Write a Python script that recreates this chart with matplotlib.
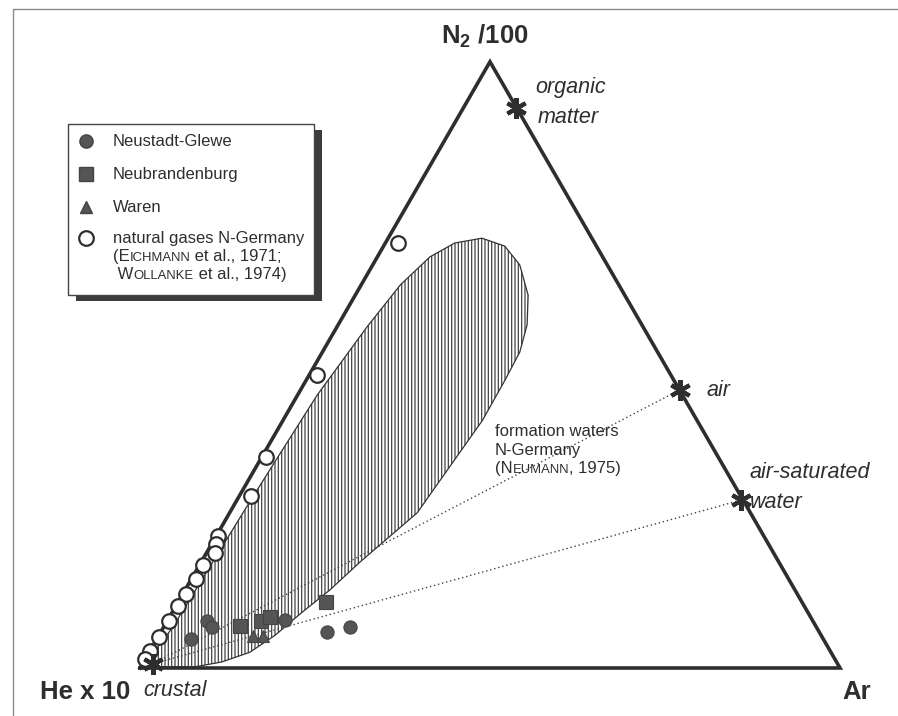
import numpy as np
import matplotlib.pyplot as plt
from matplotlib.patches import Polygon, Rectangle
from matplotlib.offsetbox import TextArea, HPacker, AnnotationBbox

plt.rcParams['font.family'] = ['Liberation Sans', 'DejaVu Sans']
plt.rcParams['mathtext.fontset'] = 'custom'
plt.rcParams['mathtext.rm'] = 'Liberation Sans'
plt.rcParams['mathtext.bf'] = 'Liberation Sans:bold'
plt.rcParams['hatch.linewidth'] = 0.9

# ternary values in percent: N2/100 and Ar (He x 10 is the rest)
gas_n2 = [70.1, 48.3, 34.8, 28.4, 21.8, 20.5, 19.0, 17.0, 14.7, 12.2, 10.2, 7.8, 5.1, 2.8, 1.5]
gas_ar = [1.8, 1.1, 0.6, 1.7, 0.3, 0.6, 1.2, 0.5, 0.7, 0.5, 0.3, 0.2, 0.1, 0.0, 0.0]

glewe_n2 = [4.8, 7.8, 6.8, 7.9, 5.9, 6.8]
glewe_ar = [4.9, 5.7, 6.9, 16.8, 23.7, 26.6]

brand_n2 = [6.9, 7.8, 8.4, 10.9]
brand_ar = [10.8, 13.4, 14.4, 21.1]

waren_n2 = [5.3, 5.3]
waren_ar = [13.5, 14.9]

# end members: organic matter, air, air-saturated water, crustal
end_names = ['organic', 'air', 'asw', 'crustal']
end_n2 = [92.4, 45.9, 27.7, 0.7]
end_ar = [7.5, 54.2, 72.0, 1.5]

# outline of formation waters field (Neumann, 1975)
field_n2 = [0.2, 6.6, 16.2, 28.2, 34.8, 45.0, 56.3, 63.2, 67.8, 70.1, 70.9, 69.6, 66.5,
            61.5, 56.6, 52.1, 47.5, 40.9, 25.6, 17.5, 12.9, 8.9, 5.4, 2.6, 1.0, 0.2]
field_ar = [0.3, 1.3, 1.6, 2.0, 2.3, 2.8, 4.3, 5.6, 7.5, 9.9, 13.4, 17.3, 21.0,
            24.7, 27.0, 28.2, 28.4, 28.5, 26.8, 22.7, 20.7, 18.4, 16.6, 14.4, 11.2, 7.8]

SQ = np.sqrt(3) / 2


def tern(n2, ar):
    b = np.asarray(n2) / 100.0
    c = np.asarray(ar) / 100.0
    return c + b / 2, b * SQ


def P(px, py):
    # picture pixel -> axes data (for layout of text / legend only)
    return (px - 140) / 700.0, (668 - py) / 700.0


fig = plt.figure(figsize=(8.98, 7.16), dpi=100)
ax = fig.add_axes([0, 0, 1, 1])
ax.set_xlim(-140 / 700, 758 / 700)
ax.set_ylim(-48 / 700, 668 / 700)
ax.axis('off')

ink = '#2e2e2e'

# frame of the scanned figure
fx, fy = zip(P(13, 716), P(13, 9), P(898, 9))
ax.plot(fx, fy, color='#8a8a8a', lw=1.0, clip_on=False)

# hatched field
fxs, fys = tern(field_n2, field_ar)
ax.add_patch(Polygon(np.column_stack([fxs, fys]), closed=True, facecolor='white',
                     edgecolor='#444444', hatch='|||||', lw=0, zorder=1))
ax.add_patch(Polygon(np.column_stack([fxs, fys]), closed=True, fill=False,
                     edgecolor='#333333', lw=0.9, zorder=2))

# mixing lines crustal -> air / air-saturated water
ex, ey = tern(end_n2, end_ar)
for k in [1, 2]:
    ax.plot([ex[3], ex[k]], [ey[3], ey[k]], color='#444444', lw=1.0,
            linestyle=(0, (1, 2)), zorder=3)

# triangle
tx, ty = tern([0, 0, 100, 0], [0, 100, 0, 0])
ax.plot(tx, ty, color=ink, lw=2.6, solid_joinstyle='miter', zorder=4)

# data
gx, gy = tern(gas_n2, gas_ar)
ax.plot(gx, gy, 'o', ms=10.5, mfc='white', mec=ink, mew=1.6, zorder=6)
x, y = tern(glewe_n2, glewe_ar)
ax.plot(x, y, 'o', ms=9.5, mfc='#555555', mec='#444444', mew=0.8, zorder=6)
x, y = tern(brand_n2, brand_ar)
ax.plot(x, y, 's', ms=9.5, mfc='#555555', mec='#444444', mew=0.8, zorder=6)
x, y = tern(waren_n2, waren_ar)
ax.plot(x, y, '^', ms=8.5, mfc='#555555', mec='#444444', mew=0.8, zorder=6)
ax.plot(ex, ey, marker=(6, 2, 0), ls='none', ms=15, mec=ink, mew=3.0, zorder=7)

# vertex labels
vt = dict(fontsize=18.5, color=ink, fontweight='bold', va='center')
ax.text(*P(485, 36), 'N$_\\mathbf{2}$ /100', ha='center', **vt)
ax.text(*P(40, 692), 'He x 10', ha='left', **vt)
ax.text(*P(842, 692), 'Ar', ha='left', **vt)

# end member labels
it = dict(fontsize=15.5, style='italic', color=ink, ha='left', va='center')
ax.text(*P(535, 87), 'organic', **it)
ax.text(*P(538, 117), 'matter', **it)
ax.text(*P(707, 391), 'air', **it)
ax.text(*P(750, 472), 'air-saturated', **it)
ax.text(*P(750, 502), 'water', **it)
ax.text(*P(143, 690), 'crustal', **it)


def small_caps(parts, xy, size=12):
    boxes = []
    for s, caps in parts:
        boxes.append(TextArea(s, textprops=dict(fontsize=size * 0.78 if caps else size,
                                                color=ink)))
    pack = HPacker(children=boxes, align='baseline', pad=0, sep=0)
    ab = AnnotationBbox(pack, xy, box_alignment=(0, 0.5), frameon=False, pad=0,
                        xycoords='data', zorder=9)
    ax.add_artist(ab)


# formation waters label
ax.text(*P(495, 431), 'formation waters', fontsize=12, color=ink, va='center')
ax.text(*P(495, 450), 'N-Germany', fontsize=12, color=ink, va='center')
small_caps([('(N', False), ('EUMANN', True), (', 1975)', False)], P(495, 468))

# legend
lx0, ly0, lx1, ly1 = 68, 124, 314, 295
w = (lx1 - lx0) / 700.0
h = (ly1 - ly0) / 700.0
ax.add_patch(Rectangle(P(lx0 + 8, ly1 + 6), w, h, facecolor='#3c3c3c', lw=0, zorder=7))
ax.add_patch(Rectangle(P(lx0, ly1), w, h, facecolor='white', edgecolor='#444444',
                       lw=1.0, zorder=8))
mk = dict(zorder=9, ls='none')
ax.plot(*P(86, 141), 'o', ms=9.5, mfc='#555555', mec='#444444', **mk)
ax.plot(*P(86, 174), 's', ms=9.5, mfc='#555555', mec='#444444', **mk)
ax.plot(*P(86, 207), '^', ms=8.5, mfc='#555555', mec='#444444', **mk)
ax.plot(*P(86, 238), 'o', ms=10.5, mfc='white', mec=ink, mew=1.6, **mk)
lt = dict(fontsize=12, color=ink, va='center', zorder=9)
ax.text(*P(113, 141), 'Neustadt-Glewe', **lt)
ax.text(*P(113, 174), 'Neubrandenburg', **lt)
ax.text(*P(113, 207), 'Waren', **lt)
ax.text(*P(113, 238), 'natural gases N-Germany', **lt)
small_caps([('(E', False), ('ICHMANN', True), (' et al., 1971;', False)], P(113, 256))
small_caps([(' W', False), ('OLLANKE', True), (' et al., 1974)', False)], P(113, 274))

fig.savefig('out.png', dpi=100, facecolor='white')
